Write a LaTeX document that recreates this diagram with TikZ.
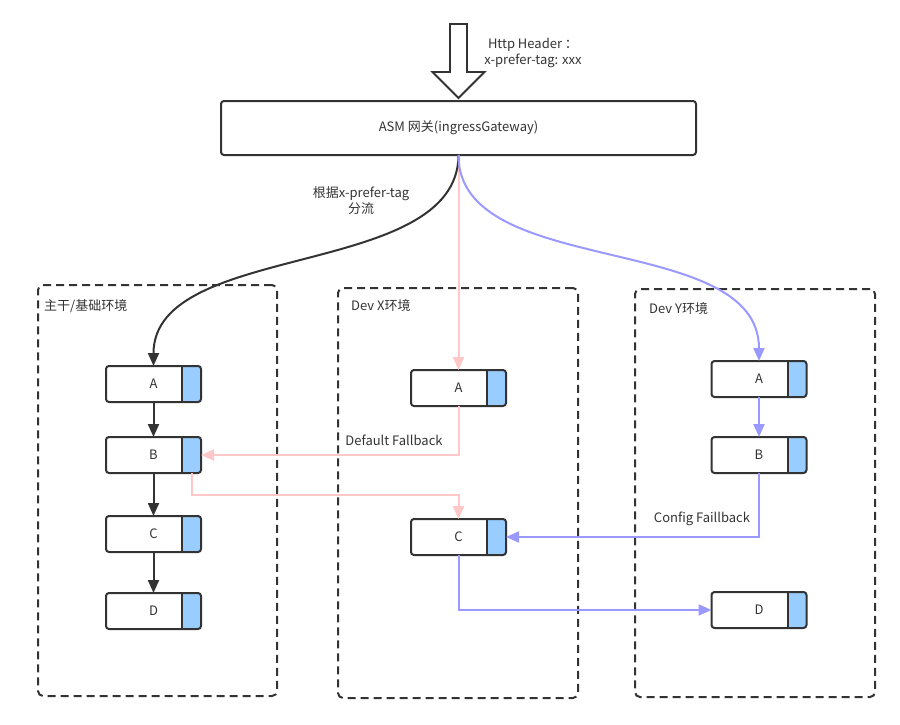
\documentclass[tikz,border=0pt]{standalone}
\usepackage{fontspec}
\setmainfont{Noto Sans CJK SC}
\usetikzlibrary{arrows.meta,calc}
\definecolor{ink}{HTML}{333333}
\definecolor{pinkline}{HTML}{FFC7C7}
\definecolor{blueline}{HTML}{9999FF}
\definecolor{tabblue}{HTML}{99CCFF}
\tikzset{
  boxline/.style={draw=ink, line width=2pt},
  svcbox/.style={fill=white, minimum width=95pt, minimum height=36pt, outer sep=0pt, inner sep=0pt, text=ink, font=\fontsize{13}{15}\selectfont},
  lbl/.style={text=ink, font=\fontsize{13}{16}\selectfont, inner sep=0pt},
  container/.style={draw=ink, line width=2pt, dash pattern=on 8pt off 5pt, rounded corners=5pt, outer sep=0pt, inner sep=0pt},
  tip/.style={-{Triangle[length=13pt,width=11pt]}},
  darkarrow/.style={tip, draw=ink, line width=2pt},
  pinkarrow/.style={tip, draw=pinkline, line width=2pt},
  bluearrow/.style={tip, draw=blueline, line width=2pt},
}
\newcommand\svc[4]{%
  \node[svcbox] (#1) at (#2,#3) {#4};
  \begin{scope}
    \clip[rounded corners=3pt] (#1.south west) rectangle (#1.north east);
    \fill[tabblue] ($(#1.north east)+(-19,0)$) rectangle (#1.south east);
  \end{scope}
  \draw[boxline] ($(#1.north east)+(-19,0)$) -- ($(#1.south east)+(-19,0)$);
  \draw[boxline, rounded corners=3pt] (#1.south west) rectangle (#1.north east);
  \coordinate (#1t) at ($(#1.south east)+(-9.5,0)$);
}
\begin{document}
\begin{tikzpicture}[x=1pt, y=-1pt]
\useasboundingbox (0,0) rectangle (900,725);

% containers
\node[container, minimum width=239pt, minimum height=411pt] (envM) at (157.5,490.5) {};
\node[container, minimum width=240pt, minimum height=410pt] (envX) at (458,493) {};
\node[container, minimum width=240pt, minimum height=408pt] (envY) at (755,493) {};
\node[lbl, anchor=west] (envMl) at (44,306) {主干/基础环境};
\node[lbl, anchor=west] (envXl) at (351,306) {Dev X环境};
\node[lbl, anchor=west] (envYl) at (649,309) {Dev Y环境};

% gateway
\node[draw=ink, line width=2pt, rounded corners=3pt, fill=white, minimum width=475pt, minimum height=54pt, outer sep=0pt, text=ink, font=\fontsize{13}{15}\selectfont] (gw) at (458.5,128) {ASM 网关(ingressGateway)};

% big hollow arrow
\draw[draw=ink, line width=1.8pt, fill=white, line join=miter]
  ($(gw.north)+(-8.5,-77)$) -- ($(gw.north)+(8.5,-77)$) -- ($(gw.north)+(8.5,-29)$)
  -- ($(gw.north)+(26,-29)$) -- ($(gw.north)+(0,-3)$) -- ($(gw.north)+(-26,-29)$)
  -- ($(gw.north)+(-8.5,-29)$) -- cycle;
\node[lbl, align=center] (hdr) at (533,52.5) {Http Header ：\\x-prefer-tag: xxx};

% services
\svc{mA}{153.5}{384}{A}
\svc{mB}{153.5}{455}{B}
\svc{mC}{153.5}{534}{C}
\svc{mD}{153.5}{611}{D}
\svc{xA}{458.5}{388}{A}
\svc{xC}{458.5}{537}{C}
\svc{yA}{759}{379}{A}
\svc{yB}{759}{455}{B}
\svc{yD}{759}{610}{D}

% routing from gateway
\draw[pinkarrow] (gw.south) -- (xA.north);
\draw[darkarrow] (gw.south) .. controls (458,280) and (153.5,240) .. (mA.north);
\draw[bluearrow] (gw.south) .. controls (458,280) and (759,230) .. (yA.north);
\node[lbl, align=center] (split) at (361,201) {根据x-prefer-tag\\分流};

% main chain
\draw[darkarrow] (mA.south) -- (mB.north);
\draw[darkarrow] (mB.south) -- (mC.north);
\draw[darkarrow] (mC.south) -- (mD.north);

% dev Y
\draw[bluearrow] (yA.south) -- (yB.north);

% fallbacks
\draw[pinkarrow] (xA.south) |- (mB.east);
\node[lbl] (dfl) at (394,440) {Default Fallback};
\draw[pinkarrow] (mBt) -- ++(0,22) -| (xC.north);
\draw[bluearrow] (yB.south) |- (xC.east);
\node[lbl] (cfl) at (702,519) {Config Faillback};
\draw[bluearrow] (xC.south) |- (yD.west);
\end{tikzpicture}
\end{document}
